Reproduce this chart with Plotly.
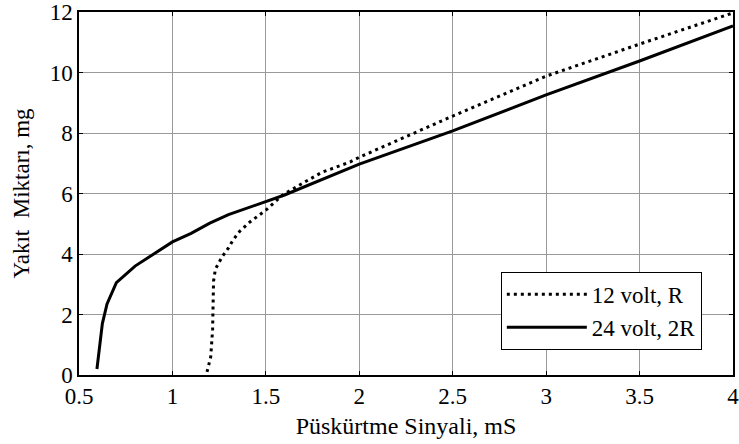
import plotly.graph_objects as go

# 12 volt, R (dotted)
x12 = [1.185, 1.205, 1.215, 1.217, 1.22, 1.23, 1.265, 1.30, 1.324, 1.36, 1.415, 1.50, 1.59, 1.70, 1.80, 1.95, 2.0, 2.5, 3.0, 3.5, 4.0]
y12 = [0.1, 0.6, 1.5, 2.3, 3.1, 3.5, 3.9, 4.2, 4.46, 4.75, 5.06, 5.45, 5.95, 6.35, 6.7, 7.04, 7.2, 8.56, 9.88, 10.94, 11.97]

# 24 volt, 2R (solid)
x24 = [0.596, 0.61, 0.625, 0.65, 0.70, 0.80, 0.90, 1.0, 1.1, 1.2, 1.3, 1.4, 1.5, 1.6, 2.0, 2.5, 3.0, 3.5, 4.0]
y24 = [0.2, 1.0, 1.7, 2.35, 3.05, 3.6, 4.0, 4.4, 4.68, 5.02, 5.3, 5.52, 5.72, 5.95, 6.97, 8.07, 9.26, 10.38, 11.54]

xticks = [0.5, 1, 1.5, 2, 2.5, 3, 3.5, 4]
xtick_labels = ["0.5", "1", "1.5", "2", "2.5", "3", "3.5", "4"]
yticks = [0, 2, 4, 6, 8, 10, 12]
ytick_labels = ["0", "2", "4", "6", "8", "10", "12"]

FONT = "Liberation Serif, Times New Roman, serif"

fig = go.Figure()
fig.add_trace(go.Scatter(x=x12, y=y12, mode="lines", name="12 volt, R",
                         line=dict(color="black", width=3, dash="3px,4px")))
fig.add_trace(go.Scatter(x=x24, y=y24, mode="lines", name="24 volt, 2R",
                         line=dict(color="black", width=3)))

axis_common = dict(
    showline=True, linecolor="black", linewidth=1.5, mirror="ticks",
    ticks="inside", ticklen=4, tickcolor="black", tickwidth=1,
    showgrid=True, gridcolor="#9a9a9a", gridwidth=1,
    zeroline=False, automargin=False, ticklabeloverflow="allow",
    tickfont=dict(family=FONT, size=23, color="black"),
)

fig.update_xaxes(range=[0.5, 4], tickvals=xticks, ticktext=xtick_labels,
                 title=dict(text="Püskürtme Sinyali, mS", font=dict(family=FONT, size=24, color="black"), standoff=9),
                 **axis_common)
fig.update_yaxes(range=[0, 12], tickvals=yticks, ticktext=ytick_labels,
                 title=dict(text="Yakıt\u00a0 Miktarı, mg", font=dict(family=FONT, size=23, color="black"), standoff=14),
                 **axis_common)

fig.update_layout(
    width=739, height=444,
    margin=dict(l=79, r=6, t=12, b=69),
    paper_bgcolor="white", plot_bgcolor="white",
    showlegend=True,
    legend=dict(x=0.645, y=0.284, xanchor="left", yanchor="top",
                bgcolor="white", bordercolor="black", borderwidth=1,
                font=dict(family=FONT, size=23, color="black"),
                itemwidth=80, tracegroupgap=0),
)

fig.write_html("out.html")
